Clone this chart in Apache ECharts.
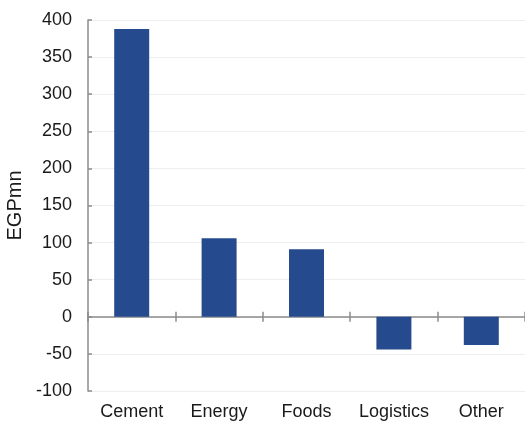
<!DOCTYPE html>
<html><head><meta charset="utf-8">
<script src="https://cdn.jsdelivr.net/npm/echarts@6/dist/echarts.min.js"></script>
<style>html,body{margin:0;padding:0;background:#fff}#c{width:525px;height:421px}</style>
</head><body><div id="c"></div>
<script>
const categories = ['Cement', 'Energy', 'Foods', 'Logistics', 'Other'];
const values = [388, 106, 91, -44, -38];
const yName = 'EGPmn';
const yMin = -100, yMax = 400, yStep = 50;

const chart = echarts.init(document.getElementById('c'));
const font = 'Liberation Sans, Arial, sans-serif';
const axisColor = '#8c8c8c';
chart.setOption({
  animation: false,
  grid: {left: 88, top: 20, right: 0, bottom: 30, containLabel: false, outerBoundsMode: 'none'},
  xAxis: [
    {type: 'category', data: categories, position: 'bottom',
     axisLine: {show: false, onZero: false}, axisTick: {show: false},
     axisLabel: {margin: 12, color: '#1a1a1a', fontSize: 18, fontFamily: font, interval: 0}},
    {type: 'category', data: categories, position: 'bottom',
     axisLine: {show: true, onZero: true, onZeroAxisIndex: 0, lineStyle: {color: axisColor, width: 1.5}},
     axisTick: {show: true, length: 5, lineStyle: {color: axisColor, width: 1.5}},
     axisLabel: {show: false}},
    {type: 'category', data: categories, position: 'bottom',
     axisLine: {show: false, onZero: true, onZeroAxisIndex: 0},
     axisTick: {show: true, inside: true, length: 5, lineStyle: {color: axisColor, width: 1.5}},
     axisLabel: {show: false}}
  ],
  yAxis: {
    type: 'value', min: yMin, max: yMax, interval: yStep,
    name: yName, nameLocation: 'middle', nameGap: 59, nameRotate: 90,
    nameTextStyle: {color: '#1a1a1a', fontSize: 20, fontFamily: font},
    axisLine: {show: true, lineStyle: {color: axisColor, width: 1.5}},
    axisTick: {show: true, inside: true, length: 4, lineStyle: {color: axisColor, width: 1.5}},
    axisLabel: {margin: 16, color: '#1a1a1a', fontSize: 18, fontFamily: font},
    splitLine: {show: true, lineStyle: {color: '#eeeeee', width: 1}}
  },
  series: [{
    type: 'bar', data: values, xAxisIndex: 0, barWidth: 35,
    itemStyle: {color: '#264a8e'}
  }]
});
</script></body></html>
